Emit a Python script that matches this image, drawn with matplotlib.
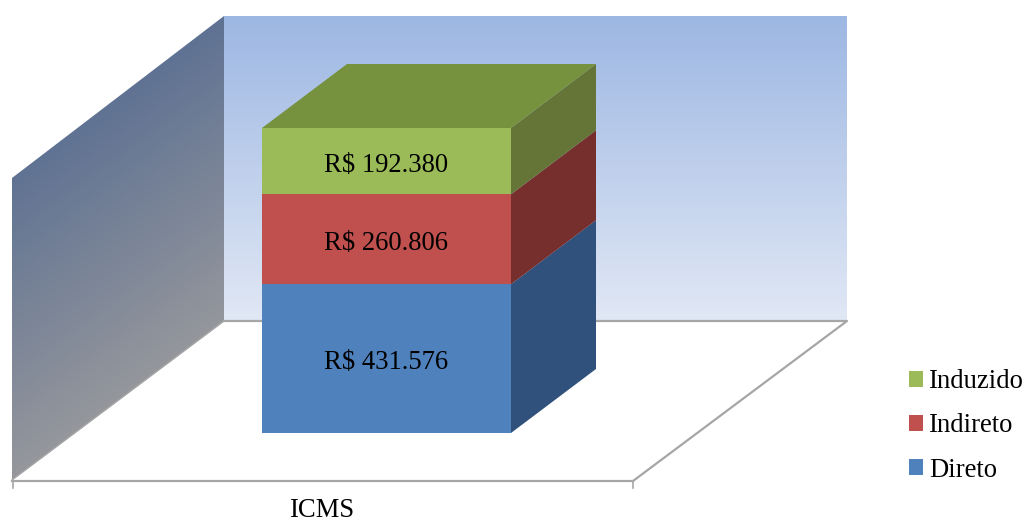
import matplotlib.pyplot as plt
import numpy as np
from matplotlib.patches import Patch, Polygon

plt.rcParams["font.family"] = ["Liberation Serif", "DejaVu Serif"]

category = "ICMS"
series = ["Direto", "Indireto", "Induzido"]
values = [431576, 260806, 192380]
labels = ["R$ 431.576", "R$ 260.806", "R$ 192.380"]

FRONT = ["#4F81BD", "#C0504D", "#9BBB59"]
SIDE = ["#30517B", "#772F2D", "#647537"]
TOP = "#77923F"

# layout in pixels, y pointing down
BAR_X0, BAR_X1 = 262, 511
BAR_BASE = 433
DEPTH_X, DEPTH_Y = 85, -64
PX_PER_UNIT = 305 / sum(values)
FS = 19.2


def gradient_poly(ax, pts, img, extent):
    poly = Polygon(pts, closed=True, fc="none", ec="none")
    ax.add_patch(poly)
    im = ax.imshow(img, extent=extent, aspect="auto", interpolation="bilinear", zorder=1)
    im.set_clip_path(poly)


def main():
    fig = plt.figure(figsize=(10.26, 5.23), dpi=100)
    ax = fig.add_axes([0, 0, 1, 1])

    # back wall, light to dark blue upward
    t = np.linspace(0, 1, 256)[:, None]
    c0 = np.array([0x9D, 0xB7, 0xE3]) / 255
    c1 = np.array([0xE1, 0xE8, 0xF5]) / 255
    back = (c0 + (c1 - c0) * t)[:, None, :].reshape(256, 1, 3)
    gradient_poly(ax, [(224, 16), (847, 16), (847, 321), (224, 321)], back, (224, 847, 321, 16))

    # side wall, slate at the top blending to grey at the bottom
    yy, xx = np.mgrid[0:1:256j, 0:1:256j]
    s = np.clip((0.75 * yy + 0.25 * xx - 0.25) / 0.5, 0, 1)
    c0 = np.array([0x5F, 0x72, 0x93]) / 255
    c1 = np.array([0x95, 0x97, 0x9C]) / 255
    side = c0 + (c1 - c0) * s[..., None]
    gradient_poly(ax, [(12, 178), (224, 16), (224, 321), (12, 480)], side, (12, 224, 480, 16))

    # floor outline and axis ticks
    ax.plot([224, 847, 633], [321, 321, 481], color="#A6A6A6", lw=1.6, zorder=2)
    ax.plot([12, 224], [480, 321], color="#A6A6A6", lw=1.0, zorder=2)
    ax.plot([12, 633], [481, 481], color="#A6A6A6", lw=1.6, zorder=2)
    for tx in (12.5, 633):
        ax.plot([tx, tx], [481, 488], color="#A6A6A6", lw=1.2, zorder=2)

    # stacked block
    base = BAR_BASE
    for val, lab, front, sd in zip(values, labels, FRONT, SIDE):
        top = base - val * PX_PER_UNIT
        ax.add_patch(Polygon([(BAR_X0, base), (BAR_X1, base), (BAR_X1, top), (BAR_X0, top)],
                             fc=front, ec="none", zorder=3))
        ax.add_patch(Polygon([(BAR_X1, base), (BAR_X1 + DEPTH_X, base + DEPTH_Y),
                              (BAR_X1 + DEPTH_X, top + DEPTH_Y), (BAR_X1, top)],
                             fc=sd, ec="none", zorder=3))
        ax.text((BAR_X0 + BAR_X1) / 2 - 0.5, (base + top) / 2 + 10.5, lab, ha="center", va="baseline",
                fontsize=FS, color="black", zorder=4)
        base = top
    ax.add_patch(Polygon([(BAR_X0, base), (BAR_X1, base), (BAR_X1 + DEPTH_X, base + DEPTH_Y),
                          (BAR_X0 + DEPTH_X, base + DEPTH_Y)], fc=TOP, ec="none", zorder=3))

    ax.text(323, 517, category, ha="center", va="baseline", fontsize=FS, color="black")

    handles = [Patch(fc=c, ec="none", label=n) for n, c in zip(series[::-1], FRONT[::-1])]
    ax.legend(handles=handles, loc="center left", bbox_to_anchor=(909 / 1026, 1 - 426 / 523),
              bbox_transform=ax.transAxes, frameon=False, fontsize=FS, handlelength=0.53,
              handleheight=0.53, handletextpad=0.22, labelspacing=0.72, borderpad=0, borderaxespad=0)

    ax.set_xlim(0, 1026)
    ax.set_ylim(523, 0)
    ax.axis("off")
    fig.savefig("out.png", dpi=100)


if __name__ == "__main__":
    main()
